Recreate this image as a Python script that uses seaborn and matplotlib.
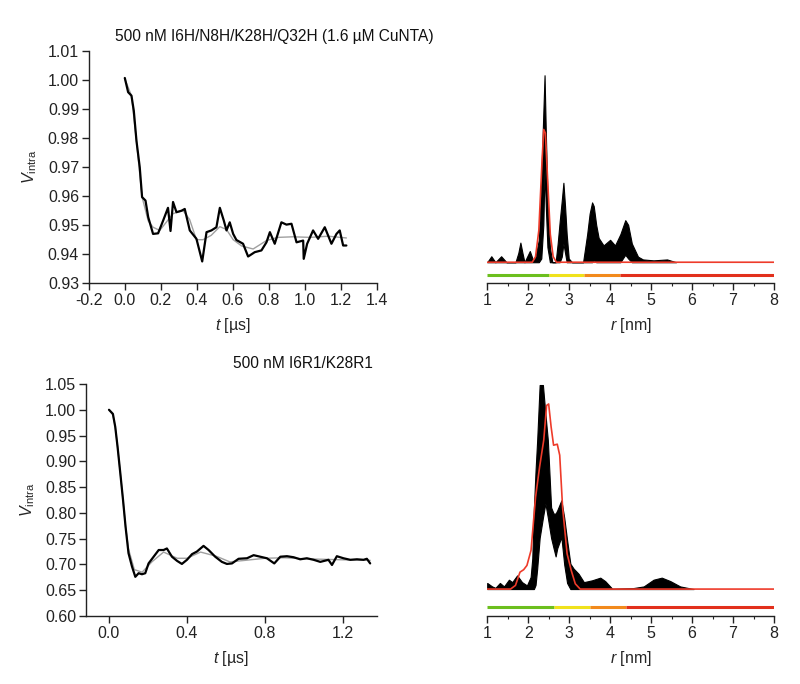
import numpy as np
import matplotlib
matplotlib.use("Agg")
import matplotlib.pyplot as plt
from matplotlib.ticker import FormatStrFormatter, MultipleLocator
import seaborn as sns

# --- top: 500 nM I6H/N8H/K28H/Q32H (1.6 uM CuNTA) ---
t_top = [0.0, 0.0185, 0.037, 0.05, 0.065, 0.083, 0.096, 0.115, 0.13, 0.157, 0.185,
         0.213, 0.24, 0.254, 0.268, 0.287, 0.315, 0.333, 0.361, 0.398, 0.43, 0.454,
         0.481, 0.509, 0.528, 0.55, 0.565, 0.583, 0.602, 0.62, 0.657, 0.685, 0.722,
         0.759, 0.787, 0.806, 0.833, 0.87, 0.898, 0.926, 0.954, 0.991, 0.994, 1.013,
         1.046, 1.074, 1.111, 1.148, 1.176, 1.194, 1.213, 1.231]
v_top = [1.0008, 0.9959, 0.9947, 0.9895, 0.979, 0.970, 0.9597, 0.9585, 0.9528, 0.947,
         0.9472, 0.9516, 0.956, 0.948, 0.958, 0.9545, 0.955, 0.9556, 0.9482, 0.9453,
         0.9375, 0.9476, 0.9482, 0.9493, 0.956, 0.9516, 0.9482, 0.951, 0.947, 0.9449,
         0.9436, 0.9392, 0.9407, 0.9413, 0.9441, 0.9476, 0.9436, 0.951, 0.9502, 0.9505,
         0.9441, 0.9447, 0.9384, 0.9436, 0.9482, 0.9453, 0.9493, 0.9436, 0.947, 0.9482,
         0.943, 0.943]
t_top_fit = [0.0, 0.037, 0.065, 0.096, 0.13, 0.157, 0.194, 0.23, 0.268, 0.324, 0.36,
             0.398, 0.435, 0.48, 0.528, 0.565, 0.602, 0.65, 0.713, 0.787, 0.85, 0.935,
             1.03, 1.13, 1.231]
v_top_fit = [1.0005, 0.9947, 0.979, 0.9597, 0.9515, 0.9493, 0.9482, 0.951, 0.954, 0.955,
             0.952, 0.945, 0.945, 0.9465, 0.9495, 0.9485, 0.945, 0.9428, 0.9418, 0.9447,
             0.9458, 0.946, 0.9458, 0.9462, 0.9456]

r_top = [1.0, 1.1, 1.2, 1.34, 1.47, 1.69, 1.76, 1.81, 1.86, 1.91, 2.04, 2.12, 2.17, 2.26,
         2.32, 2.37, 2.4, 2.43, 2.47, 2.53, 2.59, 2.67, 2.72, 2.77, 2.82, 2.86, 2.9, 2.94,
         2.99, 3.07, 3.34, 3.44, 3.5, 3.56, 3.6, 3.66, 3.72, 3.84, 4.0, 4.12, 4.25, 4.37,
         4.44, 4.53, 4.68, 4.8, 5.06, 5.39, 5.61]
p_top_hi = [0, 0.032, 0, 0.032, 0, 0, 0.05, 0.105, 0.05, 0, 0.06, 0.01, 0.02, 0.12,
            0.45, 0.8, 1.0, 0.7, 0.35, 0.08, 0, 0, 0.1, 0.22, 0.33, 0.425, 0.3, 0.15,
            0.02, 0, 0, 0.15, 0.26, 0.32, 0.3, 0.2, 0.13, 0.09, 0.12, 0.09, 0.15, 0.225,
            0.2, 0.1, 0.03, 0.015, 0.01, 0.015, 0]
p_top_lo = [0, 0, 0, 0, 0, 0, 0, 0, 0, 0, 0, 0, 0, 0,
            0.02, 0.2, 0.5, 0.3, 0.08, 0, 0, 0, 0, 0, 0.03, 0.1, 0.05, 0,
            0, 0, 0, 0, 0, 0, 0.01, 0, 0, 0, 0, 0, 0, 0.04,
            0.02, 0, 0, 0, 0, 0, 0]
r_top_fit = [1.0, 2.1, 2.18, 2.26, 2.34, 2.38, 2.42, 2.48, 2.54, 2.61, 2.69, 8.0]
p_top_fit = [0, 0, 0.03, 0.17, 0.55, 0.71, 0.69, 0.42, 0.15, 0.03, 0, 0]
bar_top_edges = [1.0, 2.52, 3.37, 4.23, 8.0]

# --- bottom: 500 nM I6R1/K28R1 ---
t_bot = [0.0, 0.02, 0.032, 0.044, 0.058, 0.072, 0.085, 0.1, 0.118, 0.135, 0.152, 0.169,
         0.186, 0.203, 0.229, 0.255, 0.28, 0.297, 0.323, 0.349, 0.374, 0.4, 0.426,
         0.451, 0.485, 0.511, 0.545, 0.579, 0.605, 0.631, 0.665, 0.708, 0.742, 0.776,
         0.81, 0.848, 0.879, 0.913, 0.947, 0.981, 1.015, 1.05, 1.084, 1.126, 1.144,
         1.169, 1.203, 1.238, 1.272, 1.306, 1.323, 1.34]
v_bot = [1.0, 0.992, 0.967, 0.928, 0.877, 0.825, 0.773, 0.722, 0.696, 0.676, 0.683,
         0.681, 0.683, 0.702, 0.715, 0.728, 0.728, 0.731, 0.715, 0.707, 0.701, 0.709,
         0.72, 0.725, 0.736, 0.728, 0.715, 0.705, 0.701, 0.702, 0.711, 0.712, 0.718,
         0.715, 0.712, 0.702, 0.715, 0.716, 0.714, 0.71, 0.712, 0.709, 0.705, 0.709,
         0.699, 0.716, 0.712, 0.709, 0.71, 0.709, 0.711, 0.702]
t_bot_fit = [0.0, 0.02, 0.032, 0.044, 0.058, 0.072, 0.085, 0.1, 0.13, 0.17, 0.22, 0.28,
             0.35, 0.4, 0.47, 0.55, 0.62, 0.7, 0.8, 0.9, 1.0, 1.1, 1.2, 1.34]
v_bot_fit = [1.0, 0.99, 0.967, 0.928, 0.877, 0.825, 0.773, 0.73, 0.69, 0.685, 0.705,
             0.724, 0.712, 0.712, 0.724, 0.716, 0.705, 0.708, 0.712, 0.713, 0.711,
             0.71, 0.709, 0.708]

r_bot = [1.0, 1.12, 1.2, 1.31, 1.41, 1.53, 1.61, 1.73, 1.85, 1.97, 2.06, 2.1, 2.14, 2.18,
         2.22, 2.28, 2.36, 2.42, 2.48, 2.56, 2.62, 2.67, 2.71, 2.81, 2.88, 2.95, 3.03,
         3.11, 3.23, 3.36, 3.56, 3.76, 3.88, 4.05, 4.57, 4.82, 5.06, 5.26, 5.47, 5.71, 6.04]
p_bot_hi = [0.03, 0.013, 0.006, 0.03, 0.013, 0.046, 0.034, 0.067, 0.034, 0.018, 0.059,
            0.15, 0.40, 0.58, 0.73, 1.0, 1.0, 0.86, 0.73, 0.40, 0.37, 0.37, 0.386, 0.435,
            0.35, 0.24, 0.124, 0.1, 0.075, 0.034, 0.043, 0.056, 0.039, 0.002, 0.005,
            0.013, 0.046, 0.056, 0.039, 0.013, 0]
p_bot_lo = [0, 0, 0, 0, 0, 0, 0, 0, 0, 0, 0, 0, 0, 0.02,
            0.1, 0.25, 0.35, 0.42, 0.35, 0.25, 0.2, 0.16, 0.2, 0.255,
            0.12, 0.03, 0, 0, 0, 0, 0, 0, 0, 0, 0, 0, 0, 0, 0, 0, 0]
r_bot_fit = [1.0, 1.57, 1.69, 1.8, 1.89, 1.97, 2.07, 2.18, 2.28, 2.38, 2.45, 2.5, 2.56,
             2.62, 2.71, 2.77, 2.84, 2.95, 3.05, 3.15, 3.27, 8.0]
p_bot_fit = [0, 0, 0.018, 0.083, 0.095, 0.116, 0.19, 0.45, 0.6, 0.73, 0.9, 0.907, 0.795,
             0.705, 0.71, 0.656, 0.40, 0.173, 0.092, 0.026, 0, 0]
bar_bot_edges = [1.0, 2.62, 3.5, 4.39, 8.0]

bar_colors = ["#6cbf1e", "#f0e21c", "#f28a1c", "#e2301c"]
fit_red = "#ee3b2a"

sns.set_style("ticks")
plt.rcParams["font.family"] = ["Liberation Sans", "DejaVu Sans"]
plt.rcParams["mathtext.fontset"] = "custom"
plt.rcParams["mathtext.rm"] = "Liberation Sans"
plt.rcParams["mathtext.it"] = "Liberation Sans:italic"
plt.rcParams["axes.unicode_minus"] = False
plt.rcParams["font.size"] = 11.5

fig = plt.figure(figsize=(8, 6.84), dpi=100)
ax_tl = fig.add_axes([0.111, 0.586, 0.360, 0.339])
ax_tr = fig.add_axes([0.609, 0.586, 0.3585, 0.339])
ax_bl = fig.add_axes([0.1075, 0.0994, 0.3635, 0.3392])
ax_br = fig.add_axes([0.609, 0.0994, 0.3585, 0.3392])


def style_trace(ax):
    sns.despine(ax=ax)
    for s in ("left", "bottom"):
        ax.spines[s].set_linewidth(1.0)
        ax.spines[s].set_color("#222222")
    ax.tick_params(direction="out", length=5, width=1.0, pad=2, labelsize=11.5,
                   colors="#222222")
    ax.set_ylabel(r"$V_{\mathrm{intra}}$", fontsize=11.5, labelpad=6)
    ax.set_xlabel(r"$t$ [µs]", fontsize=11.5, labelpad=6)


def style_dist(ax, ylim):
    sns.despine(ax=ax, left=True)
    ax.spines["bottom"].set_linewidth(1.0)
    ax.spines["bottom"].set_color("#222222")
    ax.set_yticks([])
    ax.set_xlim(1, 8)
    ax.set_ylim(*ylim)
    ax.xaxis.set_major_locator(MultipleLocator(1))
    ax.xaxis.set_minor_locator(MultipleLocator(0.5))
    ax.tick_params(axis="x", which="major", direction="out", length=5, width=1.0, pad=2,
                   labelsize=11.5, colors="#222222")
    ax.tick_params(axis="x", which="minor", direction="out", length=2.5, width=0.8,
                   colors="#222222")
    ax.set_xlabel(r"$r$ [nm]", fontsize=11.5, labelpad=6)


def color_bar(ax, edges, y):
    for i, c in enumerate(bar_colors):
        ax.plot(edges[i:i + 2], [y, y], color=c, lw=2.2, solid_capstyle="butt")


# top left: time trace
sns.lineplot(x=t_top_fit, y=v_top_fit, ax=ax_tl, color="#a0a0a0", lw=1.0)
sns.lineplot(x=t_top, y=v_top, ax=ax_tl, color="black", lw=1.6)
ax_tl.set_xlim(-0.2, 1.4)
ax_tl.set_ylim(0.93, 1.01)
ax_tl.xaxis.set_major_locator(MultipleLocator(0.2))
ax_tl.yaxis.set_major_locator(MultipleLocator(0.01))
ax_tl.xaxis.set_major_formatter(FormatStrFormatter("%.1f"))
ax_tl.yaxis.set_major_formatter(FormatStrFormatter("%.2f"))
style_trace(ax_tl)

# top right: distance distribution
ax_tr.fill_between(r_top, p_top_lo, p_top_hi, color="black", lw=0.8, edgecolor="black")
sns.lineplot(x=r_top_fit, y=p_top_fit, ax=ax_tr, color=fit_red, lw=1.2)
color_bar(ax_tr, bar_top_edges, -0.07)
style_dist(ax_tr, (-0.112, 1.128))

# bottom left: time trace
sns.lineplot(x=t_bot_fit, y=v_bot_fit, ax=ax_bl, color="#a0a0a0", lw=1.0)
sns.lineplot(x=t_bot, y=v_bot, ax=ax_bl, color="black", lw=1.6)
ax_bl.set_xlim(-0.118, 1.374)
ax_bl.set_ylim(0.60, 1.05)
ax_bl.xaxis.set_major_locator(MultipleLocator(0.4))
ax_bl.yaxis.set_major_locator(MultipleLocator(0.05))
ax_bl.xaxis.set_major_formatter(FormatStrFormatter("%.1f"))
ax_bl.yaxis.set_major_formatter(FormatStrFormatter("%.2f"))
style_trace(ax_bl)

# bottom right: distance distribution
ax_br.fill_between(r_bot, p_bot_lo, p_bot_hi, color="black", lw=0.8, edgecolor="black",
                   clip_on=False)
sns.lineplot(x=r_bot_fit, y=p_bot_fit, ax=ax_br, color=fit_red, lw=1.2)
color_bar(ax_br, bar_bot_edges, -0.088)
style_dist(ax_br, (-0.132, 1.005))

fig.text(0.144, 0.946, "500 nM I6H/N8H/K28H/Q32H (1.6 µM CuNTA)", fontsize=11.2,
         ha="left", va="center", color="#111111")
fig.text(0.466, 0.468, "500 nM I6R1/K28R1", fontsize=11.2, ha="right", va="center",
         color="#111111")

fig.savefig("out.png", dpi=100, facecolor="white")
